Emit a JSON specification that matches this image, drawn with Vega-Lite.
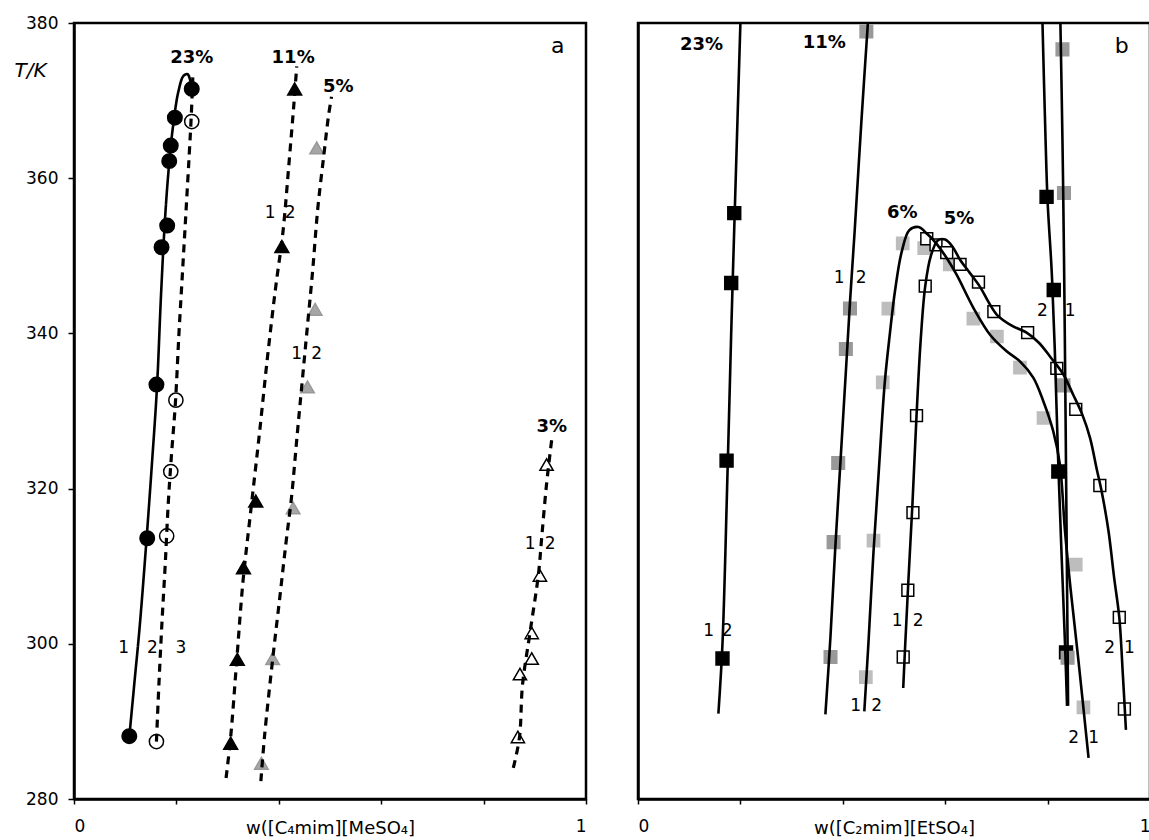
{
  "$schema": "https://vega.github.io/schema/vega-lite/v6.json",
  "background": "white",
  "padding": {"left": 12, "top": 12, "right": 0, "bottom": 0},
  "spacing": 48,
  "config": {
    "font": "DejaVu Sans",
    "view": {"stroke": "black", "strokeWidth": 2.5},
    "axis": {
      "grid": false,
      "domainColor": "black",
      "domainWidth": 2.5,
      "tickColor": "black",
      "tickWidth": 1.5,
      "labelColor": "black",
      "titleColor": "black",
      "labelFont": "DejaVu Sans",
      "titleFont": "DejaVu Sans",
      "labelFontSize": 17,
      "titleFontSize": 18,
      "titleFontWeight": "normal",
      "labelOverlap": false,
      "labelBound": false
    }
  },
  "datasets": {
    "pts": [
      {"p": "a", "m": "fc", "w": 0.108, "T": 288.1},
      {"p": "a", "m": "fc", "w": 0.143, "T": 313.6},
      {"p": "a", "m": "fc", "w": 0.161, "T": 333.4},
      {"p": "a", "m": "fc", "w": 0.171, "T": 351.1},
      {"p": "a", "m": "fc", "w": 0.182, "T": 353.9},
      {"p": "a", "m": "fc", "w": 0.186, "T": 362.2},
      {"p": "a", "m": "fc", "w": 0.189, "T": 364.2},
      {"p": "a", "m": "fc", "w": 0.197, "T": 367.8},
      {"p": "a", "m": "fc", "w": 0.230, "T": 371.5},
      {"p": "a", "m": "oc", "w": 0.161, "T": 287.4},
      {"p": "a", "m": "oc", "w": 0.181, "T": 313.9},
      {"p": "a", "m": "oc", "w": 0.189, "T": 322.2},
      {"p": "a", "m": "oc", "w": 0.199, "T": 331.4},
      {"p": "a", "m": "oc", "w": 0.230, "T": 367.3},
      {"p": "a", "m": "ft", "w": 0.306, "T": 287.2},
      {"p": "a", "m": "ft", "w": 0.319, "T": 298.0},
      {"p": "a", "m": "ft", "w": 0.331, "T": 309.8},
      {"p": "a", "m": "ft", "w": 0.355, "T": 318.4},
      {"p": "a", "m": "ft", "w": 0.406, "T": 351.2},
      {"p": "a", "m": "ft", "w": 0.431, "T": 371.5},
      {"p": "a", "m": "gt", "w": 0.366, "T": 284.6},
      {"p": "a", "m": "gt", "w": 0.388, "T": 298.1},
      {"p": "a", "m": "gt", "w": 0.428, "T": 317.5},
      {"p": "a", "m": "gt", "w": 0.456, "T": 333.1},
      {"p": "a", "m": "gt", "w": 0.471, "T": 343.1},
      {"p": "a", "m": "gt", "w": 0.474, "T": 363.9},
      {"p": "a", "m": "ot", "w": 0.867, "T": 288.0},
      {"p": "a", "m": "ot", "w": 0.871, "T": 296.1},
      {"p": "a", "m": "ot", "w": 0.894, "T": 298.1},
      {"p": "a", "m": "ot", "w": 0.894, "T": 301.4},
      {"p": "a", "m": "ot", "w": 0.910, "T": 308.8},
      {"p": "a", "m": "ot", "w": 0.923, "T": 323.1},
      {"p": "b", "m": "fs", "w": 0.188, "T": 355.5},
      {"p": "b", "m": "fs", "w": 0.182, "T": 346.5},
      {"p": "b", "m": "fs", "w": 0.173, "T": 323.6},
      {"p": "b", "m": "fs", "w": 0.165, "T": 298.1},
      {"p": "b", "m": "fs", "w": 0.798, "T": 357.6},
      {"p": "b", "m": "fs", "w": 0.812, "T": 345.6},
      {"p": "b", "m": "fs", "w": 0.821, "T": 322.2},
      {"p": "b", "m": "fs", "w": 0.836, "T": 298.9},
      {"p": "b", "m": "gs", "w": 0.446, "T": 378.9},
      {"p": "b", "m": "gs", "w": 0.414, "T": 343.2},
      {"p": "b", "m": "gs", "w": 0.406, "T": 338.0},
      {"p": "b", "m": "gs", "w": 0.391, "T": 323.3},
      {"p": "b", "m": "gs", "w": 0.382, "T": 313.1},
      {"p": "b", "m": "gs", "w": 0.376, "T": 298.3},
      {"p": "b", "m": "gs", "w": 0.829, "T": 376.6},
      {"p": "b", "m": "gs", "w": 0.832, "T": 358.1},
      {"p": "b", "m": "gs", "w": 0.831, "T": 333.3},
      {"p": "b", "m": "gs", "w": 0.839, "T": 298.2},
      {"p": "b", "m": "ls", "w": 0.489, "T": 343.2},
      {"p": "b", "m": "ls", "w": 0.478, "T": 333.7},
      {"p": "b", "m": "ls", "w": 0.460, "T": 313.3},
      {"p": "b", "m": "ls", "w": 0.445, "T": 295.7},
      {"p": "b", "m": "ls", "w": 0.517, "T": 351.6},
      {"p": "b", "m": "ls", "w": 0.559, "T": 351.0},
      {"p": "b", "m": "ls", "w": 0.609, "T": 348.9},
      {"p": "b", "m": "ls", "w": 0.655, "T": 341.9},
      {"p": "b", "m": "ls", "w": 0.701, "T": 339.6},
      {"p": "b", "m": "ls", "w": 0.746, "T": 335.6},
      {"p": "b", "m": "ls", "w": 0.792, "T": 329.1},
      {"p": "b", "m": "ls", "w": 0.855, "T": 310.2},
      {"p": "b", "m": "ls", "w": 0.870, "T": 291.8},
      {"p": "b", "m": "os", "w": 0.518, "T": 298.3},
      {"p": "b", "m": "os", "w": 0.527, "T": 306.9},
      {"p": "b", "m": "os", "w": 0.537, "T": 316.9},
      {"p": "b", "m": "os", "w": 0.544, "T": 329.4},
      {"p": "b", "m": "os", "w": 0.561, "T": 346.1},
      {"p": "b", "m": "os", "w": 0.564, "T": 352.2},
      {"p": "b", "m": "os", "w": 0.582, "T": 351.4},
      {"p": "b", "m": "os", "w": 0.603, "T": 350.4},
      {"p": "b", "m": "os", "w": 0.629, "T": 348.9},
      {"p": "b", "m": "os", "w": 0.665, "T": 346.6},
      {"p": "b", "m": "os", "w": 0.695, "T": 342.8},
      {"p": "b", "m": "os", "w": 0.761, "T": 340.1},
      {"p": "b", "m": "os", "w": 0.818, "T": 335.5},
      {"p": "b", "m": "os", "w": 0.855, "T": 330.2},
      {"p": "b", "m": "os", "w": 0.902, "T": 320.4},
      {"p": "b", "m": "os", "w": 0.940, "T": 303.4},
      {"p": "b", "m": "os", "w": 0.950, "T": 291.6}
    ],
    "lines": [
      {"p": "a", "c": "a1", "d": "s", "w": 0.108, "T": 288.0},
      {"p": "a", "c": "a1", "d": "s", "w": 0.118, "T": 295.0},
      {"p": "a", "c": "a1", "d": "s", "w": 0.128, "T": 302.0},
      {"p": "a", "c": "a1", "d": "s", "w": 0.140, "T": 312.0},
      {"p": "a", "c": "a1", "d": "s", "w": 0.152, "T": 323.0},
      {"p": "a", "c": "a1", "d": "s", "w": 0.162, "T": 333.0},
      {"p": "a", "c": "a1", "d": "s", "w": 0.170, "T": 345.0},
      {"p": "a", "c": "a1", "d": "s", "w": 0.178, "T": 355.0},
      {"p": "a", "c": "a1", "d": "s", "w": 0.186, "T": 362.0},
      {"p": "a", "c": "a1", "d": "s", "w": 0.194, "T": 367.0},
      {"p": "a", "c": "a1", "d": "s", "w": 0.204, "T": 371.2},
      {"p": "a", "c": "a1", "d": "s", "w": 0.214, "T": 373.2},
      {"p": "a", "c": "a1", "d": "s", "w": 0.222, "T": 373.4},
      {"p": "a", "c": "a1", "d": "s", "w": 0.228, "T": 372.3},
      {"p": "a", "c": "a2", "d": "d", "w": 0.161, "T": 287.4},
      {"p": "a", "c": "a2", "d": "d", "w": 0.166, "T": 295.0},
      {"p": "a", "c": "a2", "d": "d", "w": 0.172, "T": 303.0},
      {"p": "a", "c": "a2", "d": "d", "w": 0.178, "T": 310.0},
      {"p": "a", "c": "a2", "d": "d", "w": 0.184, "T": 318.0},
      {"p": "a", "c": "a2", "d": "d", "w": 0.190, "T": 324.0},
      {"p": "a", "c": "a2", "d": "d", "w": 0.198, "T": 331.0},
      {"p": "a", "c": "a2", "d": "d", "w": 0.205, "T": 340.0},
      {"p": "a", "c": "a2", "d": "d", "w": 0.212, "T": 348.0},
      {"p": "a", "c": "a2", "d": "d", "w": 0.219, "T": 356.0},
      {"p": "a", "c": "a2", "d": "d", "w": 0.225, "T": 363.0},
      {"p": "a", "c": "a2", "d": "d", "w": 0.229, "T": 368.0},
      {"p": "a", "c": "a2", "d": "d", "w": 0.232, "T": 373.0},
      {"p": "a", "c": "a3", "d": "d", "w": 0.297, "T": 282.7},
      {"p": "a", "c": "a3", "d": "d", "w": 0.306, "T": 288.0},
      {"p": "a", "c": "a3", "d": "d", "w": 0.318, "T": 298.0},
      {"p": "a", "c": "a3", "d": "d", "w": 0.330, "T": 308.0},
      {"p": "a", "c": "a3", "d": "d", "w": 0.345, "T": 317.0},
      {"p": "a", "c": "a3", "d": "d", "w": 0.362, "T": 327.0},
      {"p": "a", "c": "a3", "d": "d", "w": 0.378, "T": 337.0},
      {"p": "a", "c": "a3", "d": "d", "w": 0.394, "T": 346.0},
      {"p": "a", "c": "a3", "d": "d", "w": 0.408, "T": 353.0},
      {"p": "a", "c": "a3", "d": "d", "w": 0.420, "T": 362.0},
      {"p": "a", "c": "a3", "d": "d", "w": 0.430, "T": 370.0},
      {"p": "a", "c": "a3", "d": "d", "w": 0.435, "T": 374.4},
      {"p": "a", "c": "a4", "d": "d", "w": 0.365, "T": 282.3},
      {"p": "a", "c": "a4", "d": "d", "w": 0.372, "T": 288.0},
      {"p": "a", "c": "a4", "d": "d", "w": 0.388, "T": 298.0},
      {"p": "a", "c": "a4", "d": "d", "w": 0.402, "T": 306.0},
      {"p": "a", "c": "a4", "d": "d", "w": 0.414, "T": 313.0},
      {"p": "a", "c": "a4", "d": "d", "w": 0.425, "T": 319.0},
      {"p": "a", "c": "a4", "d": "d", "w": 0.436, "T": 327.0},
      {"p": "a", "c": "a4", "d": "d", "w": 0.446, "T": 334.0},
      {"p": "a", "c": "a4", "d": "d", "w": 0.456, "T": 341.0},
      {"p": "a", "c": "a4", "d": "d", "w": 0.466, "T": 348.0},
      {"p": "a", "c": "a4", "d": "d", "w": 0.476, "T": 356.0},
      {"p": "a", "c": "a4", "d": "d", "w": 0.488, "T": 363.0},
      {"p": "a", "c": "a4", "d": "d", "w": 0.497, "T": 368.0},
      {"p": "a", "c": "a4", "d": "d", "w": 0.503, "T": 370.5},
      {"p": "a", "c": "a5", "d": "d", "w": 0.858, "T": 284.0},
      {"p": "a", "c": "a5", "d": "d", "w": 0.870, "T": 287.9},
      {"p": "a", "c": "a5", "d": "d", "w": 0.876, "T": 294.7},
      {"p": "a", "c": "a5", "d": "d", "w": 0.891, "T": 301.6},
      {"p": "a", "c": "a5", "d": "d", "w": 0.907, "T": 308.9},
      {"p": "a", "c": "a5", "d": "d", "w": 0.914, "T": 314.1},
      {"p": "a", "c": "a5", "d": "d", "w": 0.923, "T": 320.6},
      {"p": "a", "c": "a5", "d": "d", "w": 0.933, "T": 326.3},
      {"p": "b", "c": "b1", "d": "s", "w": 0.157, "T": 291.0},
      {"p": "b", "c": "b1", "d": "s", "w": 0.165, "T": 300.0},
      {"p": "b", "c": "b1", "d": "s", "w": 0.174, "T": 320.0},
      {"p": "b", "c": "b1", "d": "s", "w": 0.182, "T": 340.0},
      {"p": "b", "c": "b1", "d": "s", "w": 0.190, "T": 358.0},
      {"p": "b", "c": "b1", "d": "s", "w": 0.200, "T": 380.0},
      {"p": "b", "c": "b2", "d": "s", "w": 0.366, "T": 290.9},
      {"p": "b", "c": "b2", "d": "s", "w": 0.376, "T": 301.0},
      {"p": "b", "c": "b2", "d": "s", "w": 0.385, "T": 312.0},
      {"p": "b", "c": "b2", "d": "s", "w": 0.395, "T": 323.0},
      {"p": "b", "c": "b2", "d": "s", "w": 0.405, "T": 334.0},
      {"p": "b", "c": "b2", "d": "s", "w": 0.414, "T": 344.0},
      {"p": "b", "c": "b2", "d": "s", "w": 0.423, "T": 353.0},
      {"p": "b", "c": "b2", "d": "s", "w": 0.436, "T": 367.0},
      {"p": "b", "c": "b2", "d": "s", "w": 0.449, "T": 380.0},
      {"p": "b", "c": "b3", "d": "s", "w": 0.790, "T": 380.0},
      {"p": "b", "c": "b3", "d": "s", "w": 0.796, "T": 365.0},
      {"p": "b", "c": "b3", "d": "s", "w": 0.800, "T": 357.0},
      {"p": "b", "c": "b3", "d": "s", "w": 0.808, "T": 348.0},
      {"p": "b", "c": "b3", "d": "s", "w": 0.814, "T": 338.0},
      {"p": "b", "c": "b3", "d": "s", "w": 0.820, "T": 325.0},
      {"p": "b", "c": "b3", "d": "s", "w": 0.827, "T": 312.0},
      {"p": "b", "c": "b3", "d": "s", "w": 0.834, "T": 300.0},
      {"p": "b", "c": "b3", "d": "s", "w": 0.838, "T": 292.0},
      {"p": "b", "c": "b4", "d": "s", "w": 0.825, "T": 380.0},
      {"p": "b", "c": "b4", "d": "s", "w": 0.829, "T": 365.0},
      {"p": "b", "c": "b4", "d": "s", "w": 0.832, "T": 350.0},
      {"p": "b", "c": "b4", "d": "s", "w": 0.835, "T": 330.0},
      {"p": "b", "c": "b4", "d": "s", "w": 0.837, "T": 315.0},
      {"p": "b", "c": "b4", "d": "s", "w": 0.839, "T": 300.0},
      {"p": "b", "c": "b4", "d": "s", "w": 0.840, "T": 292.0},
      {"p": "b", "c": "b5", "d": "s", "w": 0.442, "T": 291.3},
      {"p": "b", "c": "b5", "d": "s", "w": 0.450, "T": 300.0},
      {"p": "b", "c": "b5", "d": "s", "w": 0.460, "T": 311.9},
      {"p": "b", "c": "b5", "d": "s", "w": 0.471, "T": 323.0},
      {"p": "b", "c": "b5", "d": "s", "w": 0.482, "T": 333.7},
      {"p": "b", "c": "b5", "d": "s", "w": 0.492, "T": 340.0},
      {"p": "b", "c": "b5", "d": "s", "w": 0.502, "T": 345.5},
      {"p": "b", "c": "b5", "d": "s", "w": 0.515, "T": 350.5},
      {"p": "b", "c": "b5", "d": "s", "w": 0.530, "T": 353.3},
      {"p": "b", "c": "b5", "d": "s", "w": 0.548, "T": 353.7},
      {"p": "b", "c": "b5", "d": "s", "w": 0.565, "T": 352.8},
      {"p": "b", "c": "b5", "d": "s", "w": 0.580, "T": 351.8},
      {"p": "b", "c": "b5", "d": "s", "w": 0.600, "T": 350.0},
      {"p": "b", "c": "b5", "d": "s", "w": 0.622, "T": 347.6},
      {"p": "b", "c": "b5", "d": "s", "w": 0.655, "T": 343.3},
      {"p": "b", "c": "b5", "d": "s", "w": 0.688, "T": 339.8},
      {"p": "b", "c": "b5", "d": "s", "w": 0.720, "T": 337.7},
      {"p": "b", "c": "b5", "d": "s", "w": 0.746, "T": 336.4},
      {"p": "b", "c": "b5", "d": "s", "w": 0.772, "T": 334.3},
      {"p": "b", "c": "b5", "d": "s", "w": 0.792, "T": 331.2},
      {"p": "b", "c": "b5", "d": "s", "w": 0.811, "T": 327.4},
      {"p": "b", "c": "b5", "d": "s", "w": 0.824, "T": 323.1},
      {"p": "b", "c": "b5", "d": "s", "w": 0.834, "T": 314.5},
      {"p": "b", "c": "b5", "d": "s", "w": 0.845, "T": 307.0},
      {"p": "b", "c": "b5", "d": "s", "w": 0.860, "T": 298.0},
      {"p": "b", "c": "b5", "d": "s", "w": 0.880, "T": 285.3},
      {"p": "b", "c": "b6", "d": "s", "w": 0.518, "T": 294.3},
      {"p": "b", "c": "b6", "d": "s", "w": 0.522, "T": 300.0},
      {"p": "b", "c": "b6", "d": "s", "w": 0.528, "T": 308.0},
      {"p": "b", "c": "b6", "d": "s", "w": 0.536, "T": 318.0},
      {"p": "b", "c": "b6", "d": "s", "w": 0.544, "T": 329.4},
      {"p": "b", "c": "b6", "d": "s", "w": 0.552, "T": 339.0},
      {"p": "b", "c": "b6", "d": "s", "w": 0.561, "T": 346.1},
      {"p": "b", "c": "b6", "d": "s", "w": 0.572, "T": 350.0},
      {"p": "b", "c": "b6", "d": "s", "w": 0.586, "T": 352.0},
      {"p": "b", "c": "b6", "d": "s", "w": 0.600, "T": 352.1},
      {"p": "b", "c": "b6", "d": "s", "w": 0.614, "T": 351.2},
      {"p": "b", "c": "b6", "d": "s", "w": 0.629, "T": 349.5},
      {"p": "b", "c": "b6", "d": "s", "w": 0.648, "T": 347.8},
      {"p": "b", "c": "b6", "d": "s", "w": 0.668, "T": 346.0},
      {"p": "b", "c": "b6", "d": "s", "w": 0.685, "T": 344.0},
      {"p": "b", "c": "b6", "d": "s", "w": 0.701, "T": 342.4},
      {"p": "b", "c": "b6", "d": "s", "w": 0.730, "T": 341.0},
      {"p": "b", "c": "b6", "d": "s", "w": 0.759, "T": 340.1},
      {"p": "b", "c": "b6", "d": "s", "w": 0.783, "T": 338.8},
      {"p": "b", "c": "b6", "d": "s", "w": 0.805, "T": 337.0},
      {"p": "b", "c": "b6", "d": "s", "w": 0.830, "T": 334.8},
      {"p": "b", "c": "b6", "d": "s", "w": 0.850, "T": 332.1},
      {"p": "b", "c": "b6", "d": "s", "w": 0.868, "T": 329.5},
      {"p": "b", "c": "b6", "d": "s", "w": 0.883, "T": 326.5},
      {"p": "b", "c": "b6", "d": "s", "w": 0.896, "T": 322.5},
      {"p": "b", "c": "b6", "d": "s", "w": 0.906, "T": 319.5},
      {"p": "b", "c": "b6", "d": "s", "w": 0.919, "T": 314.5},
      {"p": "b", "c": "b6", "d": "s", "w": 0.930, "T": 308.5},
      {"p": "b", "c": "b6", "d": "s", "w": 0.940, "T": 303.4},
      {"p": "b", "c": "b6", "d": "s", "w": 0.947, "T": 296.0},
      {"p": "b", "c": "b6", "d": "s", "w": 0.953, "T": 288.9}
    ],
    "labels": [
      {"p": "a", "k": "pct", "t": "23%", "w": 0.230, "T": 375.5},
      {"p": "a", "k": "pct", "t": "11%", "w": 0.428, "T": 375.5},
      {"p": "a", "k": "pct", "t": "5%", "w": 0.516, "T": 371.7},
      {"p": "a", "k": "pct", "t": "3%", "w": 0.933, "T": 328.0},
      {"p": "a", "k": "num", "t": "1", "w": 0.097, "T": 299.4},
      {"p": "a", "k": "num", "t": "2", "w": 0.153, "T": 299.4},
      {"p": "a", "k": "num", "t": "3", "w": 0.209, "T": 299.4},
      {"p": "a", "k": "num", "t": "1", "w": 0.383, "T": 355.5},
      {"p": "a", "k": "num", "t": "2", "w": 0.422, "T": 355.5},
      {"p": "a", "k": "num", "t": "1", "w": 0.435, "T": 337.3},
      {"p": "a", "k": "num", "t": "2", "w": 0.474, "T": 337.3},
      {"p": "a", "k": "num", "t": "1", "w": 0.891, "T": 312.8},
      {"p": "a", "k": "num", "t": "2", "w": 0.930, "T": 312.8},
      {"p": "a", "k": "tag", "t": "a", "w": 0.945, "T": 377.0},
      {"p": "b", "k": "pct", "t": "23%", "w": 0.124, "T": 377.2},
      {"p": "b", "k": "pct", "t": "11%", "w": 0.364, "T": 377.4},
      {"p": "b", "k": "pct", "t": "6%", "w": 0.516, "T": 355.5},
      {"p": "b", "k": "pct", "t": "5%", "w": 0.627, "T": 354.7},
      {"p": "b", "k": "num", "t": "1", "w": 0.393, "T": 347.1},
      {"p": "b", "k": "num", "t": "2", "w": 0.436, "T": 347.1},
      {"p": "b", "k": "num", "t": "2", "w": 0.790, "T": 342.9},
      {"p": "b", "k": "num", "t": "1", "w": 0.844, "T": 342.9},
      {"p": "b", "k": "num", "t": "1", "w": 0.138, "T": 301.6},
      {"p": "b", "k": "num", "t": "2", "w": 0.174, "T": 301.6},
      {"p": "b", "k": "num", "t": "1", "w": 0.425, "T": 292.0},
      {"p": "b", "k": "num", "t": "2", "w": 0.466, "T": 292.0},
      {"p": "b", "k": "num", "t": "1", "w": 0.506, "T": 303.0},
      {"p": "b", "k": "num", "t": "2", "w": 0.547, "T": 303.0},
      {"p": "b", "k": "num", "t": "2", "w": 0.851, "T": 287.9},
      {"p": "b", "k": "num", "t": "1", "w": 0.890, "T": 287.9},
      {"p": "b", "k": "num", "t": "2", "w": 0.921, "T": 299.5},
      {"p": "b", "k": "num", "t": "1", "w": 0.960, "T": 299.5},
      {"p": "b", "k": "tag", "t": "b", "w": 0.945, "T": 377.0}
    ]
  },
  "hconcat": [
    {
      "width": 512,
      "height": 776,
      "encoding": {
        "x": {
          "field": "w", "type": "quantitative",
          "scale": {"domain": [0, 1], "nice": false, "zero": false},
          "axis": {
            "values": [0, 0.2, 0.4, 0.6, 0.8, 1],
            "labelExpr": "datum.value == 0 ? '0' : (datum.value == 1 ? '1' : '')",
            "tickSize": 5,
            "labelPadding": 14,
            "title": "w([C₄mim][MeSO₄]",
            "titleY": 34,
            "titleBaseline": "alphabetic",
            "titleFontSize": 18
          }
        },
        "y": {
          "field": "T", "type": "quantitative",
          "scale": {"domain": [280, 380], "nice": false, "zero": false},
          "axis": {
            "values": [280, 300, 320, 340, 360, 380],
            "tickSize": 6,
            "labelPadding": 10,
            "title": "T/K",
            "titleAngle": 0,
            "titleX": -44,
            "titleY": 47,
            "titleAlign": "center",
            "titleBaseline": "middle",
            "titleFontStyle": "italic",
            "titleFontSize": 20
          }
        }
      },
      "layer": [
        {
          "data": {"name": "pts"},
          "transform": [{"filter": "datum.p == 'a'"}],
          "mark": {"type": "point", "filled": true, "opacity": 1, "strokeWidth": 1.5},
          "encoding": {
            "shape": {"field": "m", "type": "nominal", "legend": null,
              "scale": {"domain": ["fc", "oc", "ft", "gt", "ot", "fs", "gs", "ls", "os"], "range": ["circle", "circle", "triangle-up", "triangle-up", "triangle-up", "square", "square", "square", "square"]}},
            "fill": {"field": "m", "type": "nominal", "legend": null,
              "scale": {"domain": ["fc", "oc", "ft", "gt", "ot", "fs", "gs", "ls", "os"], "range": ["black", "white", "black", "#a6a6a6", "white", "black", "#999999", "#bdbdbd", "white"]}},
            "stroke": {"field": "m", "type": "nominal", "legend": null,
              "scale": {"domain": ["fc", "oc", "ft", "gt", "ot", "fs", "gs", "ls", "os"], "range": ["black", "black", "black", "#999999", "black", "black", "#999999", "#bdbdbd", "black"]}},
            "size": {"field": "m", "type": "nominal", "legend": null,
              "scale": {"domain": ["fc", "oc", "ft", "gt", "ot", "fs", "gs", "ls", "os"], "range": [210, 140, 320, 320, 320, 180, 190, 190, 170]}}
          }
        },
        {
          "data": {"name": "lines"},
          "transform": [{"filter": "datum.p == 'a'"}],
          "mark": {"type": "line", "interpolate": "catmull-rom", "clip": true, "color": "black"},
          "encoding": {
            "detail": {"field": "c", "type": "nominal"},
            "order": {"value": null},
            "strokeDash": {"field": "d", "type": "nominal", "legend": null,
              "scale": {"domain": ["s", "d"], "range": [[1, 0], [8, 6]]}},
            "strokeWidth": {"field": "d", "type": "nominal", "legend": null,
              "scale": {"domain": ["s", "d"], "range": [2.6, 3.2]}}
          }
        },
        {
          "data": {"name": "labels"},
          "transform": [{"filter": "datum.p == 'a' && datum.k == 'pct'"}],
          "mark": {"type": "text", "font": "DejaVu Sans", "fontWeight": "bold", "fontSize": 18, "align": "center", "baseline": "middle", "color": "black"},
          "encoding": {"text": {"field": "t"}}
        },
        {
          "data": {"name": "labels"},
          "transform": [{"filter": "datum.p == 'a' && datum.k == 'num'"}],
          "mark": {"type": "text", "font": "DejaVu Sans", "fontSize": 17, "align": "center", "baseline": "middle", "color": "black"},
          "encoding": {"text": {"field": "t"}}
        },
        {
          "data": {"name": "labels"},
          "transform": [{"filter": "datum.p == 'a' && datum.k == 'tag'"}],
          "mark": {"type": "text", "font": "DejaVu Sans", "fontSize": 22, "align": "center", "baseline": "middle", "color": "black"},
          "encoding": {"text": {"field": "t"}}
        }
      ]
    },
    {
      "width": 512,
      "height": 776,
      "encoding": {
        "x": {
          "field": "w", "type": "quantitative",
          "scale": {"domain": [0, 1], "nice": false, "zero": false},
          "axis": {
            "values": [0, 0.2, 0.4, 0.6, 0.8, 1],
            "labelExpr": "datum.value == 0 ? '0' : (datum.value == 1 ? '1' : '')",
            "tickSize": 5,
            "labelPadding": 14,
            "title": "w([C₂mim][EtSO₄]",
            "titleY": 34,
            "titleBaseline": "alphabetic",
            "titleFontSize": 18
          }
        },
        "y": {
          "field": "T", "type": "quantitative",
          "scale": {"domain": [280, 380], "nice": false, "zero": false},
          "axis": {"labels": false, "ticks": false, "title": null, "domain": true}
        }
      },
      "layer": [
        {
          "data": {"name": "pts"},
          "transform": [{"filter": "datum.p == 'b'"}],
          "mark": {"type": "point", "filled": true, "opacity": 1, "strokeWidth": 1.5},
          "encoding": {
            "shape": {"field": "m", "type": "nominal", "legend": null,
              "scale": {"domain": ["fc", "oc", "ft", "gt", "ot", "fs", "gs", "ls", "os"], "range": ["circle", "circle", "triangle-up", "triangle-up", "triangle-up", "square", "square", "square", "square"]}},
            "fill": {"field": "m", "type": "nominal", "legend": null,
              "scale": {"domain": ["fc", "oc", "ft", "gt", "ot", "fs", "gs", "ls", "os"], "range": ["black", "white", "black", "#a6a6a6", "white", "black", "#999999", "#bdbdbd", "white"]}},
            "stroke": {"field": "m", "type": "nominal", "legend": null,
              "scale": {"domain": ["fc", "oc", "ft", "gt", "ot", "fs", "gs", "ls", "os"], "range": ["black", "black", "black", "#999999", "black", "black", "#999999", "#bdbdbd", "black"]}},
            "size": {"field": "m", "type": "nominal", "legend": null,
              "scale": {"domain": ["fc", "oc", "ft", "gt", "ot", "fs", "gs", "ls", "os"], "range": [210, 140, 320, 320, 320, 180, 190, 190, 170]}}
          }
        },
        {
          "data": {"name": "lines"},
          "transform": [{"filter": "datum.p == 'b'"}],
          "mark": {"type": "line", "interpolate": "catmull-rom", "clip": true, "strokeWidth": 2.6, "color": "black"},
          "encoding": {
            "detail": {"field": "c", "type": "nominal"},
            "order": {"value": null}
          }
        },
        {
          "data": {"name": "labels"},
          "transform": [{"filter": "datum.p == 'b' && datum.k == 'pct'"}],
          "mark": {"type": "text", "font": "DejaVu Sans", "fontWeight": "bold", "fontSize": 18, "align": "center", "baseline": "middle", "color": "black"},
          "encoding": {"text": {"field": "t"}}
        },
        {
          "data": {"name": "labels"},
          "transform": [{"filter": "datum.p == 'b' && datum.k == 'num'"}],
          "mark": {"type": "text", "font": "DejaVu Sans", "fontSize": 17, "align": "center", "baseline": "middle", "color": "black"},
          "encoding": {"text": {"field": "t"}}
        },
        {
          "data": {"name": "labels"},
          "transform": [{"filter": "datum.p == 'b' && datum.k == 'tag'"}],
          "mark": {"type": "text", "font": "DejaVu Sans", "fontSize": 22, "align": "center", "baseline": "middle", "color": "black"},
          "encoding": {"text": {"field": "t"}}
        }
      ]
    }
  ]
}
